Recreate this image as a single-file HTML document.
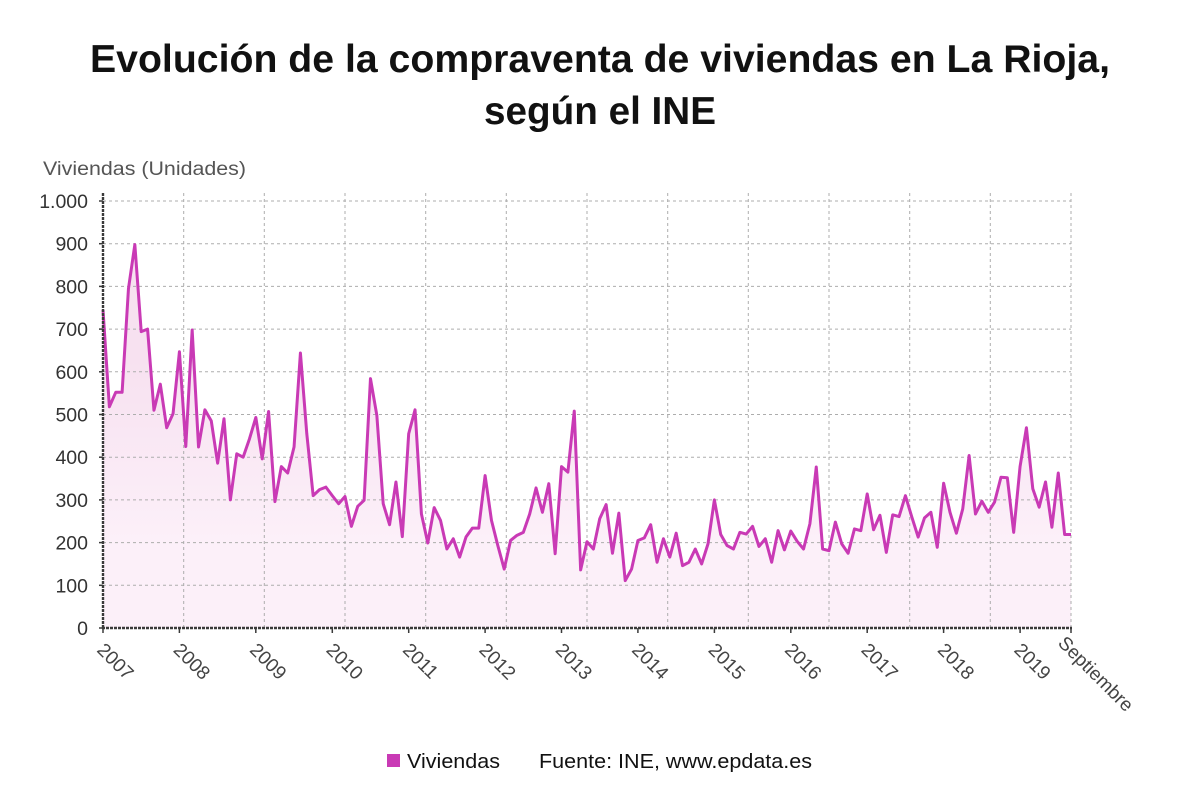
<!DOCTYPE html>
<html>
<head>
<meta charset="utf-8">
<style>
  html,body{margin:0;padding:0;background:#fff;}
  svg{display:block;}
  text{font-family:"Liberation Sans", "DejaVu Sans", sans-serif;}
</style>
</head>
<body>
<svg width="1200" height="808" viewBox="0 0 1200 808" xmlns="http://www.w3.org/2000/svg">
  <defs>
    <linearGradient id="fillg" gradientUnits="userSpaceOnUse" x1="0" y1="201" x2="0" y2="628">
      <stop offset="0" stop-color="#fcf0f9"/>
      <stop offset="1" stop-color="#f7e1f0"/>
    </linearGradient>
    <clipPath id="clipx"><rect x="0" y="0" width="1140" height="808"/></clipPath>
  </defs>
  <rect width="1200" height="808" fill="#fff"/>

  <!-- Title -->
  <text x="600" y="72" text-anchor="middle" font-size="39" font-weight="bold" fill="#111" textLength="1020" lengthAdjust="spacingAndGlyphs">Evolución de la compraventa de viviendas en La Rioja,</text>
  <text x="600" y="124" text-anchor="middle" font-size="39" font-weight="bold" fill="#111" textLength="232" lengthAdjust="spacingAndGlyphs">según el INE</text>

  <!-- Y axis title -->
  <text x="43" y="175" font-size="19" fill="#555" textLength="203" lengthAdjust="spacingAndGlyphs">Viviendas (Unidades)</text>

  <!-- Area fill -->
  <g transform="translate(103,628) scale(6.368421,-0.427)">
    <polygon fill="url(#fillg)" points="0,0 0,745 1,518 2,552 3,552 4,795 5,898 6,694 7,700 8,510 9,571 10,469 11,502 12,647 13,425 14,698 15,424 16,511 17,485 18,386 19,490 20,300 21,408 22,400 23,443 24,493 25,396 26,507 27,296 28,378 29,363 30,424 31,644 32,455 33,310 34,324 35,330 36,310 37,291 38,308 39,238 40,285 41,299 42,584 43,498 44,291 45,242 46,342 47,214 48,455 49,511 50,267 51,199 52,282 53,252 54,185 55,209 56,166 57,213 58,234 59,234 60,357 61,252 62,193 63,138 64,205 65,217 66,224 67,267 68,328 69,271 70,338 71,174 72,378 73,365 74,508 75,136 76,202 77,185 78,256 79,289 80,175 81,269 82,111 83,138 84,205 85,211 86,242 87,154 88,209 89,166 90,222 91,146 92,154 93,185 94,150 95,197 96,300 97,219 98,193 99,185 100,224 101,220 102,238 103,191 104,209 105,154 106,228 107,183 108,227 109,203 110,185 111,244 112,377 113,185 114,181 115,248 116,197 117,175 118,232 119,228 120,314 121,230 122,264 123,177 124,265 125,261 126,310 127,260 128,213 129,258 130,271 131,189 132,339 133,271 134,222 135,279 136,404 137,267 138,297 139,271 140,295 141,353 142,352 143,224 144,378 145,469 146,326 147,283 148,342 149,236 150,363 151,219 152,219 152,0"/>
  </g>

  <!-- Grid -->
  <g stroke="#adadad" stroke-width="1" stroke-dasharray="3,3" fill="none">
    <line x1="103" y1="585.3" x2="1071" y2="585.3"/>
    <line x1="103" y1="542.6" x2="1071" y2="542.6"/>
    <line x1="103" y1="499.9" x2="1071" y2="499.9"/>
    <line x1="103" y1="457.2" x2="1071" y2="457.2"/>
    <line x1="103" y1="414.5" x2="1071" y2="414.5"/>
    <line x1="103" y1="371.8" x2="1071" y2="371.8"/>
    <line x1="103" y1="329.1" x2="1071" y2="329.1"/>
    <line x1="103" y1="286.4" x2="1071" y2="286.4"/>
    <line x1="103" y1="243.7" x2="1071" y2="243.7"/>
    <line x1="103" y1="201" x2="1071" y2="201"/>
    <line x1="183.7" y1="193" x2="183.7" y2="628"/>
    <line x1="264.3" y1="193" x2="264.3" y2="628"/>
    <line x1="345" y1="193" x2="345" y2="628"/>
    <line x1="425.7" y1="193" x2="425.7" y2="628"/>
    <line x1="506.3" y1="193" x2="506.3" y2="628"/>
    <line x1="587" y1="193" x2="587" y2="628"/>
    <line x1="667.7" y1="193" x2="667.7" y2="628"/>
    <line x1="748.3" y1="193" x2="748.3" y2="628"/>
    <line x1="829" y1="193" x2="829" y2="628"/>
    <line x1="909.7" y1="193" x2="909.7" y2="628"/>
    <line x1="990.3" y1="193" x2="990.3" y2="628"/>
    <line x1="1071" y1="193" x2="1071" y2="628"/>
  </g>

  <!-- Series line -->
  <g transform="translate(103,628) scale(6.368421,-0.427)">
    <polyline fill="none" stroke="#c93ab5" stroke-width="3" vector-effect="non-scaling-stroke" stroke-linejoin="round" points="0,745 1,518 2,552 3,552 4,795 5,898 6,694 7,700 8,510 9,571 10,469 11,502 12,647 13,425 14,698 15,424 16,511 17,485 18,386 19,490 20,300 21,408 22,400 23,443 24,493 25,396 26,507 27,296 28,378 29,363 30,424 31,644 32,455 33,310 34,324 35,330 36,310 37,291 38,308 39,238 40,285 41,299 42,584 43,498 44,291 45,242 46,342 47,214 48,455 49,511 50,267 51,199 52,282 53,252 54,185 55,209 56,166 57,213 58,234 59,234 60,357 61,252 62,193 63,138 64,205 65,217 66,224 67,267 68,328 69,271 70,338 71,174 72,378 73,365 74,508 75,136 76,202 77,185 78,256 79,289 80,175 81,269 82,111 83,138 84,205 85,211 86,242 87,154 88,209 89,166 90,222 91,146 92,154 93,185 94,150 95,197 96,300 97,219 98,193 99,185 100,224 101,220 102,238 103,191 104,209 105,154 106,228 107,183 108,227 109,203 110,185 111,244 112,377 113,185 114,181 115,248 116,197 117,175 118,232 119,228 120,314 121,230 122,264 123,177 124,265 125,261 126,310 127,260 128,213 129,258 130,271 131,189 132,339 133,271 134,222 135,279 136,404 137,267 138,297 139,271 140,295 141,353 142,352 143,224 144,378 145,469 146,326 147,283 148,342 149,236 150,363 151,219 152,219"/>
  </g>

  <!-- Axes -->
  <g stroke="#3a3a3a" stroke-width="2.4" fill="none" stroke-dasharray="3,1">
    <line x1="103" y1="193" x2="103" y2="629"/>
    <line x1="102" y1="628" x2="1072" y2="628"/>
  </g>
  <!-- Y ticks -->
  <g stroke="#3a3a3a" stroke-width="1.5">
    <line x1="99" y1="628" x2="103" y2="628"/>
    <line x1="99" y1="585.3" x2="103" y2="585.3"/>
    <line x1="99" y1="542.6" x2="103" y2="542.6"/>
    <line x1="99" y1="499.9" x2="103" y2="499.9"/>
    <line x1="99" y1="457.2" x2="103" y2="457.2"/>
    <line x1="99" y1="414.5" x2="103" y2="414.5"/>
    <line x1="99" y1="371.8" x2="103" y2="371.8"/>
    <line x1="99" y1="329.1" x2="103" y2="329.1"/>
    <line x1="99" y1="286.4" x2="103" y2="286.4"/>
    <line x1="99" y1="243.7" x2="103" y2="243.7"/>
    <line x1="99" y1="201" x2="103" y2="201"/>
  </g>
  <!-- X ticks -->
  <g stroke="#3a3a3a" stroke-width="1.5">
    <line x1="103" y1="628" x2="103" y2="633"/>
    <line x1="179.4" y1="628" x2="179.4" y2="633"/>
    <line x1="255.8" y1="628" x2="255.8" y2="633"/>
    <line x1="332.3" y1="628" x2="332.3" y2="633"/>
    <line x1="408.7" y1="628" x2="408.7" y2="633"/>
    <line x1="485.1" y1="628" x2="485.1" y2="633"/>
    <line x1="561.5" y1="628" x2="561.5" y2="633"/>
    <line x1="637.9" y1="628" x2="637.9" y2="633"/>
    <line x1="714.4" y1="628" x2="714.4" y2="633"/>
    <line x1="790.8" y1="628" x2="790.8" y2="633"/>
    <line x1="867.2" y1="628" x2="867.2" y2="633"/>
    <line x1="943.6" y1="628" x2="943.6" y2="633"/>
    <line x1="1020.1" y1="628" x2="1020.1" y2="633"/>
    <line x1="1071" y1="628" x2="1071" y2="633"/>
  </g>

  <!-- Y tick labels -->
  <g font-size="19.5" fill="#333" text-anchor="end">
    <text x="88" y="635">0</text>
    <text x="88" y="592.3">100</text>
    <text x="88" y="549.6">200</text>
    <text x="88" y="506.9">300</text>
    <text x="88" y="464.2">400</text>
    <text x="88" y="421.5">500</text>
    <text x="88" y="378.8">600</text>
    <text x="88" y="336.1">700</text>
    <text x="88" y="293.4">800</text>
    <text x="88" y="250.7">900</text>
    <text x="88" y="208">1.000</text>
  </g>

  <!-- X labels -->
  <g font-size="19" fill="#444" clip-path="url(#clipx)">
    <text transform="translate(96,651) rotate(45)">2007</text>
    <text transform="translate(172.4,651) rotate(45)">2008</text>
    <text transform="translate(248.8,651) rotate(45)">2009</text>
    <text transform="translate(325.3,651) rotate(45)">2010</text>
    <text transform="translate(401.7,651) rotate(45)">2011</text>
    <text transform="translate(478.1,651) rotate(45)">2012</text>
    <text transform="translate(554.5,651) rotate(45)">2013</text>
    <text transform="translate(630.9,651) rotate(45)">2014</text>
    <text transform="translate(707.4,651) rotate(45)">2015</text>
    <text transform="translate(783.8,651) rotate(45)">2016</text>
    <text transform="translate(860.2,651) rotate(45)">2017</text>
    <text transform="translate(936.6,651) rotate(45)">2018</text>
    <text transform="translate(1013.1,651) rotate(45)">2019</text>
    <text transform="translate(1057,644) rotate(45)">Septiembre</text>
  </g>

  <!-- Legend -->
  <rect x="387" y="754" width="13" height="13" fill="#c93ab5"/>
  <text x="407" y="768" font-size="20" fill="#111" textLength="93" lengthAdjust="spacingAndGlyphs">Viviendas</text>
  <text x="539" y="768" font-size="20" fill="#111" textLength="273" lengthAdjust="spacingAndGlyphs">Fuente: INE, www.epdata.es</text>
</svg>
</body>
</html>
